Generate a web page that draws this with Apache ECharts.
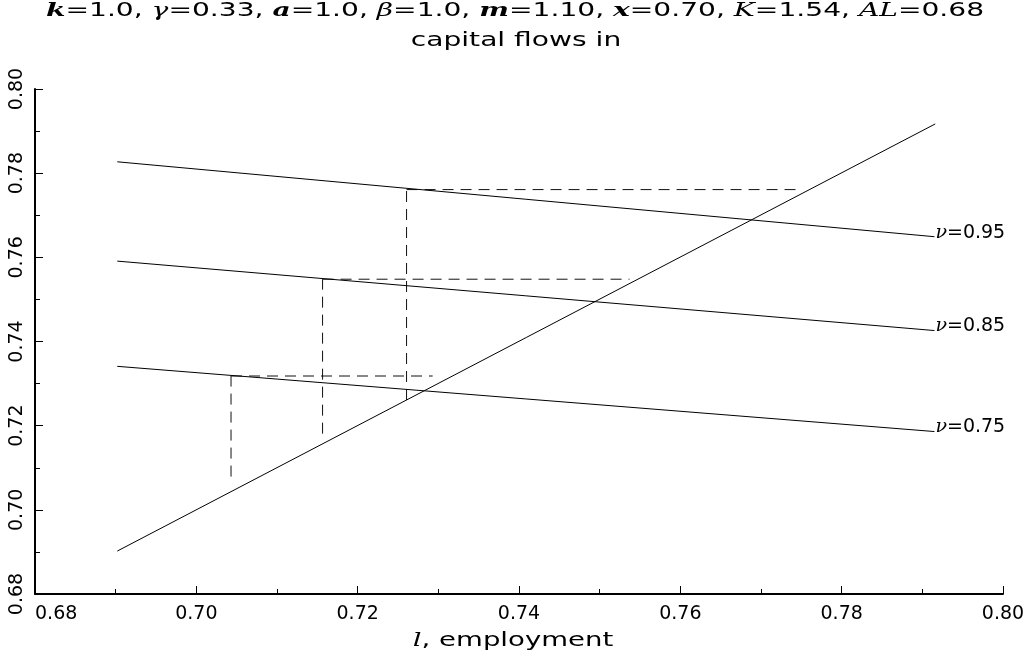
<!DOCTYPE html>
<html>
<head>
<meta charset="utf-8">
<script src="https://cdn.jsdelivr.net/npm/echarts@6/dist/echarts.min.js"></script>
<style>html,body{margin:0;padding:0;background:#fff}#c{width:1034px;height:671px}</style>
</head>
<body>
<div id="c"></div>
<script>
// ---- data ----
const xTicks = [0.68, 0.70, 0.72, 0.74, 0.76, 0.78, 0.80];
const yTicks = [0.68, 0.70, 0.72, 0.74, 0.76, 0.78, 0.80];
const titleLine1 = '{b|k}=1.0, {i|γ}=0.33, {b|a}=1.0, {i|β}=1.0, {b|m}=1.10, {b|x}=0.70, {i|K}=1.54, {i|AL}=0.68';
const titleLine2 = 'capital flows in';
const xName = '{i|l}, employment';
// 45-degree-like rising curve
const risingLine = [[0.6902, 0.6902], [0.7916, 0.7917]];
// downward sloping curves for different nu
const nuLabels = ['0.95', '0.85', '0.75'];
const nu95 = [[0.6902, 0.7827], [0.7915, 0.7649]];
const nu85 = [[0.6902, 0.7591], [0.7915, 0.7426]];
const nu75 = [[0.6902, 0.7341], [0.7915, 0.7186]];
// dashed cobweb segments
const dash1v = [[0.7043, 0.7079], [0.7043, 0.7318]];
const dash1h = [[0.7043, 0.7318], [0.7293, 0.7318]];
const dash2v = [[0.71565, 0.7181], [0.71565, 0.7548]];
const dash2h = [[0.71565, 0.7548], [0.7537, 0.7548]];
const dash3v = [[0.72606, 0.7261], [0.72606, 0.7761]];
const dash3h = [[0.72606, 0.7761], [0.7748, 0.7761]];

const FONT = 'DejaVu Sans';
const SERIF = 'DejaVu Serif';
const chart = echarts.init(document.getElementById('c'), null, {renderer: 'canvas'});

function solid(data, label) {
  const s = {
    type: 'line', data: data, symbol: 'none', silent: true,
    lineStyle: {color: '#000', width: 1}, z: 3
  };
  if (label) {
    s.endLabel = {
      show: true, distance: 1, offset: [0, -4],
      formatter: '{i|ν}=' + label,
      color: '#000', fontFamily: FONT, fontSize: 19,
      rich: {i: {fontFamily: SERIF, fontStyle: 'italic', fontSize: 19, color: '#000'}}
    };
  }
  return s;
}
function dashed(data) {
  return {
    type: 'line', data: data, symbol: 'none', silent: true,
    lineStyle: {color: '#111', width: 1, type: [11, 7]}, z: 2
  };
}

const axisCommon = {
  type: 'value', min: 0.68, max: 0.80, interval: 0.02,
  axisLine: {show: true, onZero: false, lineStyle: {color: '#000', width: 2}},
  axisTick: {show: true, inside: true, length: 8, lineStyle: {color: '#000', width: 1}},
  minorTick: {show: true, splitNumber: 2, length: 5, lineStyle: {color: '#000', width: 1}},
  splitLine: {show: false},
  minorSplitLine: {show: false}
};

const richT = {
  b: {fontFamily: SERIF, fontStyle: 'italic', fontWeight: 'bold', fontSize: 19, fill: '#000'},
  i: {fontFamily: SERIF, fontStyle: 'italic', fontSize: 19, fill: '#000'}
};

chart.setOption({
  animation: false,
  backgroundColor: '#fff',
  grid: {left: 35, right: 31, top: 89, bottom: 77, containLabel: false},
  xAxis: Object.assign({}, axisCommon, {
    axisLabel: {
      color: '#000', fontFamily: FONT, fontSize: 19, margin: 11,
      alignMinLabel: 'left',
      formatter: v => xTicks.find(t => Math.abs(t - v) < 1e-6) !== undefined ? v.toFixed(2) : ''
    }
  }),
  yAxis: Object.assign({}, axisCommon, {
    axisLabel: {
      color: '#000', fontFamily: FONT, fontSize: 19, margin: 8, rotate: 90,
      formatter: v => yTicks.find(t => Math.abs(t - v) < 1e-6) !== undefined ? v.toFixed(2) : ''
    }
  }),
  graphic: [
    {
      type: 'text', x: 515, y: 11, scaleX: 1.48, silent: true,
      style: {
        text: titleLine1, align: 'center', verticalAlign: 'middle',
        fontFamily: FONT, fontSize: 19, fill: '#000', rich: richT
      }
    },
    {
      type: 'text', x: 516, y: 41, scaleX: 1.48, silent: true,
      style: {
        text: titleLine2, align: 'center', verticalAlign: 'middle',
        fontFamily: FONT, fontSize: 19, fill: '#000'
      }
    },
    {
      type: 'text', x: 513, y: 641, scaleX: 1.45, silent: true,
      style: {
        text: xName, align: 'center', verticalAlign: 'middle',
        fontFamily: FONT, fontSize: 19, fill: '#000', rich: richT
      }
    }
  ],
  series: [
    solid(risingLine),
    solid(nu95, nuLabels[0]),
    solid(nu85, nuLabels[1]),
    solid(nu75, nuLabels[2]),
    dashed(dash1v), dashed(dash1h),
    dashed(dash2v), dashed(dash2h),
    dashed(dash3v), dashed(dash3h)
  ]
});
</script>
</body>
</html>
